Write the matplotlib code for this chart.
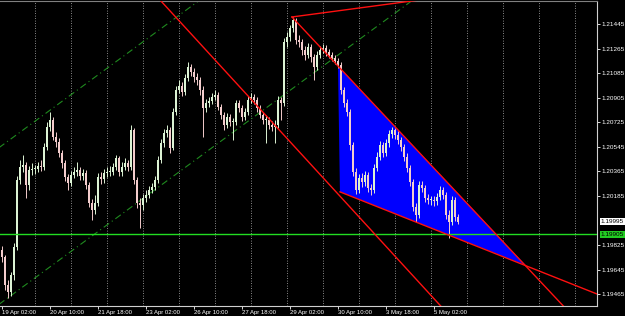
import numpy as np
import matplotlib.pyplot as plt
from matplotlib.patches import Polygon

plt.rcParams['font.family'] = ['Liberation Sans', 'DejaVu Sans']

# EURUSD, 2-hour bars starting 19 Apr 02:00 (time axis in trading hours)
first_open = 1.19790
closes = [1.19738, 1.19533, 1.19482, 1.19607, 1.19812, 1.20302, 1.20398, 1.20412, 1.20266, 1.20376,
          1.20383, 1.20383, 1.20405, 1.20398, 1.20544, 1.20691, 1.20742, 1.20617, 1.20581, 1.20500,
          1.20427, 1.20324, 1.20280, 1.20339, 1.20361, 1.20376, 1.20332, 1.20354, 1.20266, 1.20134,
          1.20083, 1.20134, 1.20324, 1.20310, 1.20354, 1.20361, 1.20361, 1.20398, 1.20464, 1.20361,
          1.20398, 1.20427, 1.20398, 1.20669, 1.20302, 1.20134, 1.20119, 1.20171, 1.20193, 1.20229,
          1.20251, 1.20302, 1.20449, 1.20573, 1.20647, 1.20669, 1.20537, 1.20800, 1.20962, 1.20991,
          1.20947, 1.21050, 1.21130, 1.21093, 1.21057, 1.21035, 1.20962, 1.20830, 1.20866, 1.20881,
          1.20910, 1.20925, 1.20837, 1.20779, 1.20705, 1.20764, 1.20727, 1.20727, 1.20866, 1.20830,
          1.20764, 1.20800, 1.20888, 1.20910, 1.20888, 1.20830, 1.20779, 1.20742, 1.20742, 1.20705,
          1.20691, 1.20705, 1.20888, 1.20866, 1.21313, 1.21350, 1.21416, 1.21474, 1.21328, 1.21313,
          1.21255, 1.21218, 1.21277, 1.21203, 1.21130, 1.21218, 1.21255, 1.21269, 1.21240, 1.21218,
          1.21196, 1.21174, 1.21145, 1.20962, 1.20866, 1.20800, 1.20559, 1.20361, 1.20229, 1.20317,
          1.20288, 1.20339, 1.20244, 1.20229, 1.20390, 1.20471, 1.20559, 1.20500, 1.20573, 1.20639,
          1.20669, 1.20632, 1.20595, 1.20544, 1.20471, 1.20390, 1.20288, 1.20105, 1.20046, 1.20266,
          1.20244, 1.20171, 1.20156, 1.20156, 1.20149, 1.20178, 1.20229, 1.20193, 1.20046, 1.19995,
          1.20156, 1.20031, 1.19995]
highs = [1.19819, 1.19753, 1.19570, 1.19628, 1.19841, 1.20332, 1.20449, 1.20486, 1.20434, 1.20405,
         1.20427, 1.20412, 1.20434, 1.20449, 1.20573, 1.20727, 1.20800, 1.20764, 1.20654, 1.20610,
         1.20522, 1.20449, 1.20346, 1.20368, 1.20398, 1.20434, 1.20398, 1.20383, 1.20376, 1.20288,
         1.20163, 1.20193, 1.20354, 1.20361, 1.20383, 1.20398, 1.20405, 1.20427, 1.20486, 1.20478,
         1.20434, 1.20464, 1.20449, 1.20705, 1.20683, 1.20324, 1.20171, 1.20200, 1.20229, 1.20258,
         1.20280, 1.20332, 1.20478, 1.20603, 1.20676, 1.20705, 1.20691, 1.20830, 1.20991, 1.21035,
         1.21020, 1.21079, 1.21167, 1.21152, 1.21123, 1.21086, 1.21057, 1.20991, 1.20896, 1.20910,
         1.20940, 1.20962, 1.20947, 1.20859, 1.20800, 1.20793, 1.20786, 1.20756, 1.20888, 1.20888,
         1.20852, 1.20830, 1.20918, 1.20940, 1.20932, 1.20910, 1.20852, 1.20800, 1.20779, 1.20764,
         1.20735, 1.20742, 1.20918, 1.20910, 1.21343, 1.21386, 1.21438, 1.21496, 1.21489, 1.21365,
         1.21335, 1.21284, 1.21306, 1.21299, 1.21225, 1.21247, 1.21284, 1.21299, 1.21291, 1.21262,
         1.21240, 1.21218, 1.21196, 1.21167, 1.20984, 1.20896, 1.20822, 1.20581, 1.20390, 1.20346,
         1.20354, 1.20368, 1.20361, 1.20273, 1.20420, 1.20507, 1.20588, 1.20581, 1.20603, 1.20669,
         1.20691, 1.20683, 1.20661, 1.20617, 1.20566, 1.20500, 1.20412, 1.20310, 1.20134, 1.20295,
         1.20295, 1.20266, 1.20200, 1.20185, 1.20185, 1.20207, 1.20258, 1.20251, 1.20214, 1.20083,
         1.20185, 1.20178, 1.20053]
lows = [1.19702, 1.19497, 1.19438, 1.19453, 1.19570, 1.19790, 1.20273, 1.20361, 1.20171, 1.20229,
        1.20339, 1.20346, 1.20361, 1.20368, 1.20376, 1.20522, 1.20661, 1.20595, 1.20544, 1.20471,
        1.20390, 1.20295, 1.20229, 1.20258, 1.20317, 1.20332, 1.20302, 1.20302, 1.20236, 1.20105,
        1.20009, 1.20053, 1.20112, 1.20273, 1.20280, 1.20324, 1.20332, 1.20339, 1.20376, 1.20332,
        1.20332, 1.20376, 1.20368, 1.20376, 1.20273, 1.20097, 1.19951, 1.20083, 1.20141, 1.20171,
        1.20207, 1.20229, 1.20280, 1.20427, 1.20544, 1.20617, 1.20500, 1.20522, 1.20779, 1.20940,
        1.20918, 1.20925, 1.21027, 1.21064, 1.21020, 1.20998, 1.20925, 1.20617, 1.20800, 1.20837,
        1.20859, 1.20888, 1.20815, 1.20749, 1.20669, 1.20683, 1.20698, 1.20595, 1.20705, 1.20800,
        1.20735, 1.20742, 1.20779, 1.20866, 1.20859, 1.20800, 1.20756, 1.20712, 1.20573, 1.20676,
        1.20661, 1.20573, 1.20683, 1.20742, 1.20844, 1.21277, 1.21321, 1.21386, 1.21299, 1.21277,
        1.21218, 1.21181, 1.21196, 1.21167, 1.21035, 1.21108, 1.21196, 1.21233, 1.21211, 1.21196,
        1.21174, 1.21152, 1.21123, 1.20932, 1.20837, 1.20771, 1.20522, 1.20332, 1.20200, 1.20207,
        1.20251, 1.20258, 1.20214, 1.20193, 1.20207, 1.20368, 1.20449, 1.20471, 1.20478, 1.20544,
        1.20610, 1.20603, 1.20566, 1.20515, 1.20442, 1.20361, 1.20258, 1.20075, 1.19995, 1.20024,
        1.20214, 1.20141, 1.20127, 1.20119, 1.20112, 1.20119, 1.20156, 1.20163, 1.20017, 1.19878,
        1.19973, 1.20002, 1.19980]

# drawn objects: (time in hours, price)
red_top_t, red_top_p = [193.3, 282.0], [1.21496, 1.21626]
red_long_t, red_long_p = [105.3, 294.9], [1.21621, 1.19350]
wedge_up_t, wedge_up_p = [193.3, 376.7], [1.21496, 1.19350]
wedge_lo_t, wedge_lo_p = [225.3, 398.7], [1.20215, 1.19458]
chan_lo_t, chan_lo_p = [-2.0, 274.0], [1.19391, 1.21621]
chan_up_t, chan_up_p = [-2.7, 132.0], [1.20533, 1.21621]
tri_t = [224.0, 225.3, 349.1]
tri_p = [1.21137, 1.20215, 1.19678]
hline_price = 1.19905
bid_price = 1.19995

price_ticks = [1.21445, 1.21265, 1.21085, 1.20905, 1.20725, 1.20545, 1.20365, 1.20185,
               1.19825, 1.19645, 1.19465]
time_ticks = [0, 32, 64, 96, 128, 160, 192, 224, 256, 288]
time_labels = ["19 Apr 02:00", "20 Apr 10:00", "21 Apr 18:00", "23 Apr 02:00", "26 Apr 10:00",
               "27 Apr 18:00", "29 Apr 02:00", "30 Apr 10:00", "3 May 18:00", "5 May 02:00"]

closes = np.array(closes)
highs = np.array(highs)
lows = np.array(lows)
opens = np.concatenate([[first_open], closes[:-1]])
t = np.arange(len(closes)) * 2.0

fig = plt.figure(figsize=(6.25, 3.16), dpi=100, facecolor="black")
ax = fig.add_axes([0, 10 / 316, 597 / 625, 305 / 316])
ax.set_facecolor("black")

# day grid
for g in np.arange(22, 397, 24):
    ax.axvline(g, color="#b8b8b8", linestyle=(0, (1, 2)), linewidth=0.6, zorder=0)

ax.add_patch(Polygon(list(zip(tri_t, tri_p)), closed=True, facecolor="#0000ff",
                     edgecolor="none", zorder=1))

ax.plot(chan_lo_t, chan_lo_p, color="#1f8a1f", linestyle=(0, (6, 3, 1, 3)), linewidth=0.8, zorder=2)
ax.plot(chan_up_t, chan_up_p, color="#1f8a1f", linestyle=(0, (6, 3, 1, 3)), linewidth=0.8, zorder=2)

up = closes >= opens
col = np.where(up, "#dcf3d4", "#f3cccc")
ax.vlines(t, lows, highs, colors=col, linewidth=0.7, zorder=3)
body = np.maximum(np.abs(closes - opens), 0.00004)
ax.bar(t, body, bottom=np.minimum(opens, closes), width=1.2, color=col, linewidth=0, zorder=3)

ax.axhline(hline_price, color="#22dd22", linewidth=1.0, zorder=4)
for lt, lp in [(red_top_t, red_top_p), (red_long_t, red_long_p),
               (wedge_up_t, wedge_up_p), (wedge_lo_t, wedge_lo_p)]:
    ax.plot(lt, lp, color="#ff1010", linewidth=1.0, zorder=5)

ax.set_xlim(-1.333, 396.67)
ax.set_ylim(1.19379, 1.21613)

ax.yaxis.tick_right()
ax.set_yticks(price_ticks)
ax.set_yticklabels([f"{p:.5f}" for p in price_ticks])
ax.set_xticks(time_ticks)
ax.set_xticklabels(time_labels, ha="left")
ax.tick_params(axis="y", colors="white", labelsize=4.6, length=2, width=0.6, pad=1)
ax.tick_params(axis="x", colors="white", labelsize=4.3, length=2, width=0.6, pad=0.8)

for s in ax.spines.values():
    s.set_color("#d0d0d0")
    s.set_linewidth(0.8)
ax.spines["left"].set_visible(False)
ax.spines["top"].set_color("#808080")

trans = ax.get_yaxis_transform()
ax.text(1.006, bid_price, f"{bid_price:.5f}", transform=trans, fontsize=4.6, color="black",
        ha="left", va="center", bbox=dict(facecolor="white", edgecolor="none", pad=0.7), zorder=6,
        clip_on=False)
ax.text(1.006, hline_price, f"{hline_price:.5f}", transform=trans, fontsize=4.6, color="black",
        ha="left", va="center", bbox=dict(facecolor="#22cc22", edgecolor="none", pad=0.7), zorder=6,
        clip_on=False)

fig.savefig("out.png", dpi=100, facecolor="black")
